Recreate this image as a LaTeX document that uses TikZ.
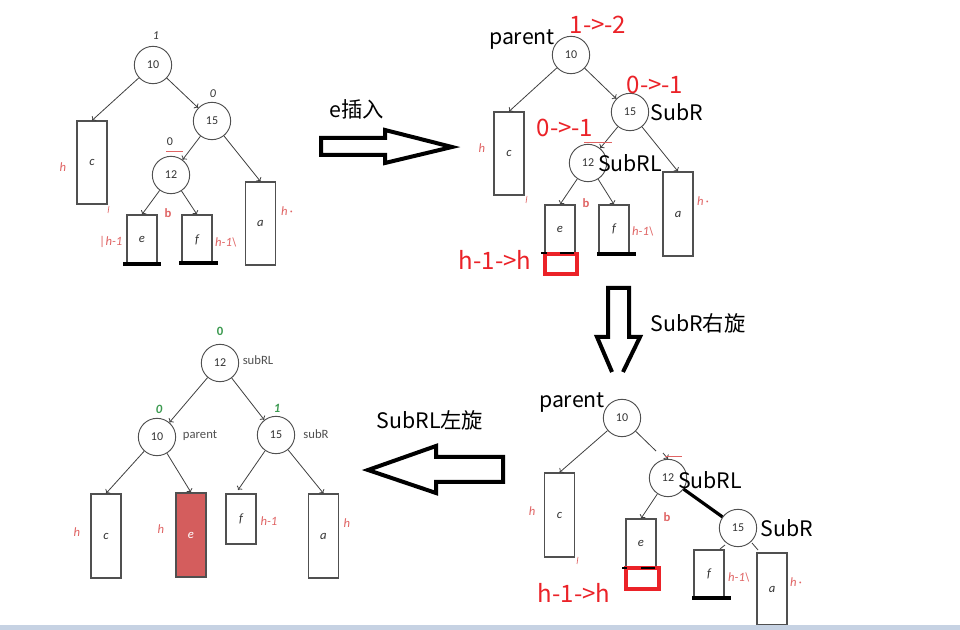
\documentclass[tikz,border=0pt]{standalone}
\usepackage{fontspec}
\setmainfont{Carlito}
\newfontfamily\cjk{Noto Sans CJK SC}
\usetikzlibrary{arrows.meta}
\definecolor{cgray}{HTML}{505050}
\definecolor{numgray}{HTML}{333333}
\definecolor{agray}{HTML}{404040}
\definecolor{lred}{HTML}{E06464}
\definecolor{bred}{HTML}{EB2228}
\definecolor{fillred}{HTML}{D45D5D}
\definecolor{lgreen}{HTML}{3C9A50}
\definecolor{bandc}{HTML}{C6D2E3}
\begin{document}
\begin{tikzpicture}[x=0.75pt,y=-0.75pt,
  circ/.style={circle, draw=cgray, line width=0.7pt, minimum size=28pt, inner sep=0pt,
    font=\fontsize{9}{10}\selectfont, text=numgray},
  bx/.style={rectangle, draw=cgray, line width=0.8pt, minimum width=22.5pt, inner sep=0pt,
    font=\fontsize{9.5}{10}\selectfont\itshape, text=numgray},
  conn/.style={draw=agray, line width=0.6pt, -{To[length=2.5pt,width=5pt]}},
  plainconn/.style={draw=agray, line width=0.6pt},
  hl/.style={font=\fontsize{9.5}{10}\selectfont\itshape, text=lred, inner sep=0pt},
  hlb/.style={font=\fontsize{9.5}{10}\selectfont\bfseries, text=lred, inner sep=0pt},
  bal/.style={font=\fontsize{9}{10}\selectfont\itshape, text=numgray, inner sep=0pt},
  balup/.style={font=\fontsize{9}{10}\selectfont, text=numgray, inner sep=0pt},
  gbal/.style={font=\fontsize{9.5}{10}\selectfont\bfseries\itshape, text=lgreen, inner sep=0pt},
  gbalup/.style={font=\fontsize{9.5}{10}\selectfont\bfseries, text=lgreen, inner sep=0pt},
  small/.style={font=\fontsize{9.5}{10}\selectfont, text=cgray, inner sep=0pt},
  big/.style={font=\cjk\fontsize{16}{18}\selectfont, text=black, inner sep=0pt},
  bigred/.style={font=\cjk\fontsize{18}{20}\selectfont, text=bred, inner sep=0pt},
  thickbar/.style={line width=3pt, black},
  thinbar/.style={line width=1.5pt, black},
  redbox/.style={draw=bred, line width=2.6pt},
  redline/.style={draw=lred, line width=0.5pt},
  hollow/.style={draw=black, line width=3pt, fill=white, line join=miter, miter limit=20}
]
\useasboundingbox (0,0) rectangle (960,630);
\fill[white] (0,0) rectangle (960,630);

% ================= Top-left tree =================
\node[circ] (t10) at (153,65) {10};
\node[circ] (t15) at (212,121) {15};
\node[circ] (t12) at (171,175) {12};
\node[bx, minimum height=62.25pt] (tc) at (92,162.5) {c};
\node[bx, minimum height=36.75pt] (te) at (142,239.5) {e};
\node[bx, minimum height=36.75pt] (tf) at (197,239.5) {f};
\node[bx, minimum height=62.25pt] (ta) at (260.5,223.5) {a};
\draw[conn] (t10) -- (tc.north);
\draw[conn] (t10) -- (t15);
\draw[conn] (t15) -- (t12);
\draw[conn] (t15) -- (ta.north);
\draw[conn] (t12) -- (te.north);
\draw[conn] (t12) -- (tf.north);
\node[bal] (tb1) at (156,36) {1};
\node[bal] (tb2) at (213,94) {0};
\node[balup] (tb3) at (170,142) {0};
\draw[redline] (166,151) -- (183,151);
\node[hl] (th1) at (63,167) {h};
\node[hlb] (tb) at (168,213) {b};
\node[hl] (th2) at (111,242) {|h-1};
\node[hl] (th3) at (226,242) {h-1\textbackslash};
\node[hl] (th4) at (287,211) {h\,·};
\draw[redline] (109,206) -- (108,213);
\draw[thickbar] (123,264) -- (161,264);
\draw[thickbar] (179,263) -- (218,263);

% ================= Insert arrow =================
\draw[hollow] (321,138) -- (385,138) -- (385,130) -- (452,147) -- (385,163) -- (385,155) -- (321,155) -- cycle;
\node[big] (ins) at (357,109) {e插入};

% ================= Top-right tree =================
\node[circ] (r10) at (571,55) {10};
\node[circ] (r15) at (630,112) {15};
\node[circ] (r12) at (588,163) {12};
\node[bx, minimum height=62.25pt] (rc) at (509,153.5) {c};
\node[bx, minimum height=36pt] (re) at (560,229) {e};
\node[bx, minimum height=36pt] (rf) at (614,229) {f};
\node[bx, minimum height=63pt] (ra) at (678,214) {a};
\draw[conn] (r10) -- (rc.north);
\draw[conn] (r10) -- (r15);
\draw[conn] (r15) -- (r12);
\draw[conn] (r15) -- (ra.north);
\draw[conn] (r12) -- (re.north);
\draw[conn] (r12) -- (rf.north);
\draw[redline] (584,142) -- (612,142);
\node[big] (rpar) at (522,40) {parent};
\node[bigred] (rb1) at (598,25) {1->-2};
\node[bigred] (rb2) at (655,85) {0->-1};
\node[big] (rsubr) at (677,112) {SubR};
\node[bigred] (rb3) at (565,128) {0->-1};
\node[big] (rsubrl) at (630,163) {SubRL};
\node[hl] (rh1) at (482,148) {h};
\node[hlb] (rb) at (586,203) {b};
\node[hl] (rh2) at (643,231) {h-1\textbackslash};
\node[hl] (rh3) at (703,201) {h\,·};
\draw[redline] (527,196) -- (526,203);
\draw[redbox] (545,254) rectangle (577,274);
\draw[thinbar] (541,253.5) -- (547,253.5);
\draw[thinbar] (560,253.5) -- (574,253.5);
\draw[thickbar] (597,254) -- (636,254);
\node[bigred] (rhh) at (495,260) {h-1->h};

% ================= Right-rotation arrow =================
\draw[hollow] (612,372) -- (597,337) -- (608,337) -- (608,288) -- (629,288) -- (629,337) -- (640,337) -- (623,372);
\node[big] (rrot) at (698,323) {SubR右旋};

% ================= Bottom-right tree =================
\node[circ] (b10) at (622,418) {10};
\node[circ] (b12) at (668,478) {12};
\node[circ] (b15) at (738,528) {15};
\node[bx, minimum height=63pt] (bc) at (559.5,515) {c};
\node[bx, minimum height=36.75pt] (be) at (641,543.5) {e};
\node[bx, minimum height=36pt] (bf) at (709,574) {f};
\node[bx, minimum height=54pt] (ba) at (772,589) {a};
\coordinate (bg1) at (656,451);
\coordinate (bg2) at (663,453);
\coordinate (bs1) at (725,545);
\coordinate (bs2) at (720,549);
\coordinate (bs3) at (752,543);
\coordinate (bs4) at (758,550);
\draw[conn] (b10) -- (bc.north);
\draw[plainconn] (b10) -- (bg1);
\draw[conn] (bg2) -- (b12.north);
\draw[redline] (665,456) -- (682,456);
\draw[conn] (b12) -- (be.north);
\draw[line width=2.4pt, black] (b12) -- (b15);
\draw[plainconn] (bs1) -- (bs2);
\draw[plainconn] (bs3) -- (bs4);
\node[big] (bpar) at (572,403) {parent};
\node[big] (bsubrl) at (710,480) {SubRL};
\node[big] (bsubr) at (787,528) {SubR};
\node[hl] (bh1) at (532,511) {h};
\node[hlb] (bb) at (667,517) {b};
\node[hl] (bh2) at (739,577) {h-1\textbackslash};
\node[hl] (bh3) at (796,582) {h\,·};
\draw[redline] (578,557) -- (577,564);
\draw[redbox] (626,568) rectangle (659,589);
\draw[thinbar] (622,567.5) -- (627,567.5);
\draw[thinbar] (641,567.5) -- (655,567.5);
\draw[thickbar] (692,598) -- (731,598);
\node[bigred] (bhh) at (574,593) {h-1->h};

% ================= Left-rotation arrow =================
\draw[hollow] (368,470) -- (436,446) -- (436,457) -- (503,457) -- (503,482) -- (436,482) -- (436,493) -- cycle;
\node[big] (lrot) at (430,420) {SubRL左旋};

% ================= Bottom-left tree =================
\node[circ] (l12) at (220,363) {12};
\node[circ] (l10) at (157,437) {10};
\node[circ] (l15) at (276,435) {15};
\node[bx, minimum height=63pt] (lc) at (106,536) {c};
\node[bx, minimum height=63pt, fill=fillred, text=white] (le) at (191,535) {e};
\node[bx, minimum height=37.5pt] (lf) at (241,519) {f};
\node[bx, minimum height=63pt] (la) at (323.5,536) {a};
\coordinate (lfend) at (238,490);
\draw[conn] (l12) -- (l10);
\draw[conn] (l12) -- (l15);
\draw[conn] (l10) -- (lc.north);
\draw[conn] (l10) -- (le.north);
\draw[conn] (l15) -- (lfend);
\draw[conn] (l15) -- (la.north);
\node[gbalup] (lg1) at (220,331) {0};
\node[gbal] (lg2) at (159,409) {0};
\node[gbal] (lg3) at (277,408) {1};
\node[small] (lsubrl) at (258,360) {subRL};
\node[small] (lpar) at (200,436) {parent};
\node[small] (lsubr) at (316,434) {subR};
\node[hl] (lh1) at (77,532) {h};
\node[hl] (lh2) at (161,529) {h};
\node[hl] (lh3) at (269,521) {h-1};
\node[hl] (lh4) at (347,523) {h};

% bottom band
\fill[bandc] (0,625) rectangle (960,630);
\end{tikzpicture}
\end{document}
